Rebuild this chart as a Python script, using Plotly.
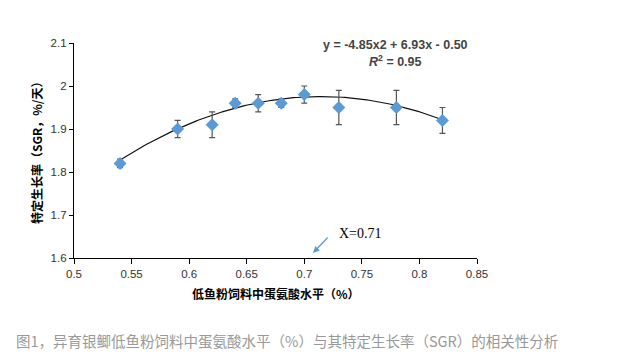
import numpy as np
import plotly.graph_objects as go

met_level = [0.54, 0.59, 0.62, 0.64, 0.66, 0.68, 0.70, 0.73, 0.78, 0.82]
sgr = [1.82, 1.90, 1.91, 1.96, 1.96, 1.96, 1.98, 1.95, 1.95, 1.92]
sgr_err = [0.01, 0.02, 0.03, 0.01, 0.02, 0.01, 0.02, 0.04, 0.04, 0.03]
fit_coef = [-4.85, 6.93, -0.50]  # y = a x^2 + b x + c (shown on chart)
x_ticks = [0.5, 0.55, 0.6, 0.65, 0.7, 0.75, 0.8, 0.85]
x_tick_text = ["0.5", "0.55", "0.6", "0.65", "0.7", "0.75", "0.8", "0.85"]
y_ticks = [1.6, 1.7, 1.8, 1.9, 2.0, 2.1]
y_tick_text = ["1.6", "1.7", "1.8", "1.9", "2", "2.1"]
opt_x = 0.71

fx = np.linspace(min(met_level), max(met_level), 120)
fy = np.polyval(fit_coef, fx)

fig = go.Figure()
fig.add_trace(go.Scatter(x=fx, y=fy, mode="lines",
                         line=dict(color="#111111", width=1.2),
                         hoverinfo="skip", showlegend=False))
fig.add_trace(go.Scatter(
    x=met_level, y=sgr, mode="markers",
    marker=dict(symbol="diamond", size=10, color="#5B9BD5"),
    error_y=dict(type="data", array=sgr_err, visible=True,
                 color="#555555", thickness=1.2, width=3),
    showlegend=False))

font_base = "Liberation Sans, Arial, sans-serif"
fig.update_layout(
    width=620, height=358,
    margin=dict(l=74, r=143, t=43, b=100),
    paper_bgcolor="white", plot_bgcolor="white",
    font=dict(family=font_base, size=11, color="#333333"),
    xaxis=dict(range=[0.5, 0.85], tickvals=x_ticks, ticktext=x_tick_text,
               showgrid=False, zeroline=False, showline=True,
               linecolor="#000000", linewidth=1.2, ticks="outside",
               ticklen=5, tickcolor="#000000",
               tickfont=dict(size=11.5, color="#333333")),
    yaxis=dict(range=[1.6, 2.1], tickvals=y_ticks, ticktext=y_tick_text,
               showgrid=False, zeroline=False, showline=True,
               linecolor="#000000", linewidth=1.2, ticks="outside",
               ticklen=4, tickcolor="#000000",
               tickfont=dict(size=11.5, color="#333333")),
)

cjk = "Noto Sans CJK SC"
fig.add_annotation(text="<b>低鱼粉饲料中蛋氨酸水平（%）</b>", xref="paper", yref="paper",
                   x=0.5, y=-0.163, xanchor="center", yanchor="middle",
                   showarrow=False,
                   font=dict(family=cjk, size=12, color="#000000"))
fig.add_annotation(text="<b>特定生长率（SGR，%/天）</b>", xref="paper", yref="paper",
                   x=-0.093, y=0.5, textangle=-90, showarrow=False,
                   xanchor="center", yanchor="middle",
                   font=dict(family=cjk, size=12, color="#000000"))
fig.add_annotation(text="<b>y = -4.85x2 + 6.93x - 0.50</b>", x=0.779, y=2.095,
                   xanchor="center", yanchor="middle",
                   showarrow=False, font=dict(size=12.5, color="#444444"))
fig.add_annotation(text="<b><i>R</i><sup>2</sup> = 0.95</b>", x=0.779, y=2.058,
                   xanchor="center", yanchor="middle",
                   showarrow=False, font=dict(size=12.5, color="#444444"))
fig.add_annotation(text="X=0.71", x=0.7484, y=1.656, showarrow=False,
                   xanchor="center", yanchor="middle",
                   font=dict(family="Liberation Serif, Times New Roman, serif",
                             size=14, color="#000000"))
fig.add_annotation(x=0.7076, y=1.6116, ax=0.7215, ay=1.651,
                   xref="x", yref="y", axref="x", ayref="y",
                   text="", showarrow=True, arrowhead=2, arrowsize=1,
                   arrowwidth=1.3, arrowcolor="#5B9BD5")
fig.add_annotation(text="图1，异育银鲫低鱼粉饲料中蛋氨酸水平（%）与其特定生长率（SGR）的相关性分析",
                   xref="paper", yref="paper", x=-0.149, y=-0.386,
                   xanchor="left", yanchor="middle", showarrow=False,
                   font=dict(family=cjk, size=14.5, color="#999999"))

fig.write_html("out.html", config={"displayModeBar": False},
               post_script="document.body.style.margin='0';")
